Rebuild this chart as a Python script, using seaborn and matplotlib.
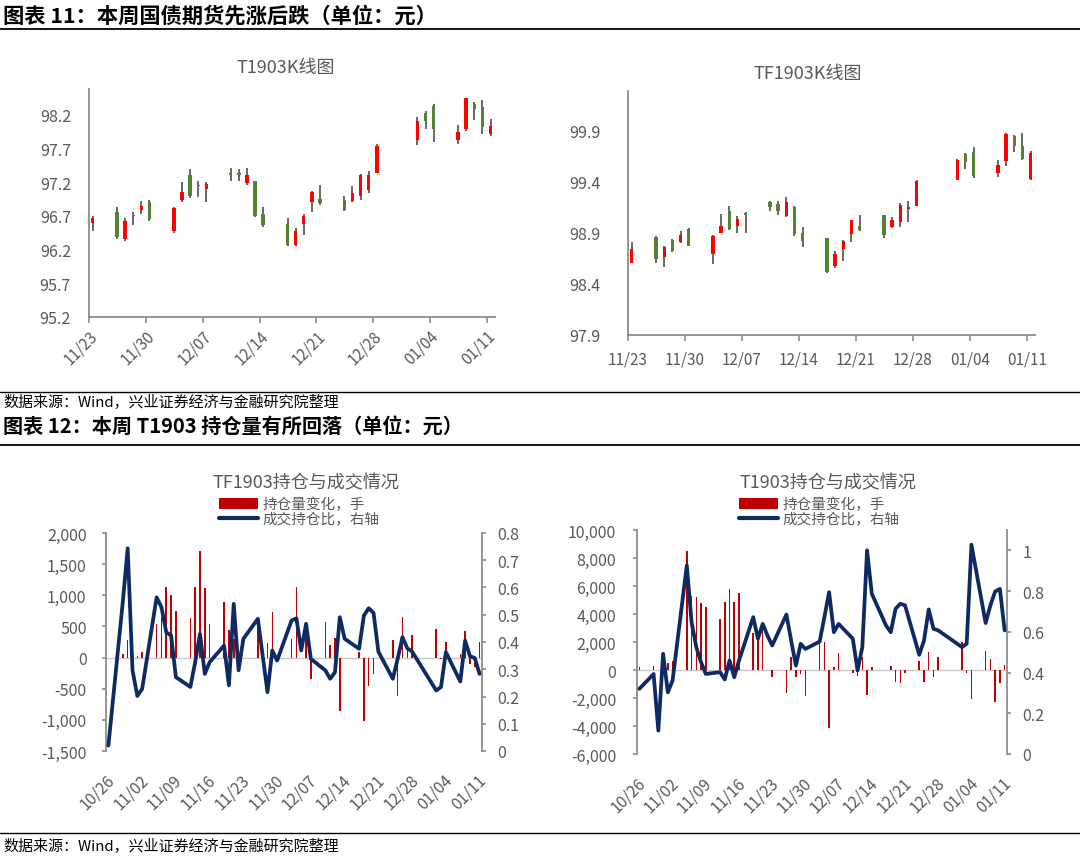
import pandas as pd
import numpy as np
import matplotlib
matplotlib.use("Agg")
import matplotlib.pyplot as plt
import seaborn as sns
from matplotlib.lines import Line2D
from matplotlib.patches import Patch

# ---------------- data: K-line charts (11/23 ~ 01/11) ----------------
k_dates = ["2018-11-23",
           "2018-11-26", "2018-11-27", "2018-11-28", "2018-11-29", "2018-11-30",
           "2018-12-03", "2018-12-04", "2018-12-05", "2018-12-06", "2018-12-07",
           "2018-12-10", "2018-12-11", "2018-12-12", "2018-12-13", "2018-12-14",
           "2018-12-17", "2018-12-18", "2018-12-19", "2018-12-20", "2018-12-21",
           "2018-12-24", "2018-12-25", "2018-12-26", "2018-12-27", "2018-12-28",
           "2019-01-02", "2019-01-03", "2019-01-04",
           "2019-01-07", "2019-01-08", "2019-01-09", "2019-01-10", "2019-01-11"]
k_ticks = ["11/23", "11/30", "12/07", "12/14", "12/21", "12/28", "01/04", "01/11"]

# T1903
t_open = [96.60, 96.75, 96.35, 96.71, 96.78, 96.90, 96.47, 96.94, 97.30, 97.16, 97.10,
          97.34, 97.33, 97.19, 97.21, 96.73, 96.58, 96.26, 96.58, 96.91, 96.95,
          96.93, 96.92, 97.00, 97.09, 97.34, 97.82, 98.23, 98.33,
          97.82, 97.99, 98.36, 98.31, 97.91]
t_high = [96.70, 96.83, 96.67, 96.75, 96.92, 96.94, 96.83, 97.20, 97.40, 97.21, 97.20,
          97.41, 97.39, 97.41, 97.22, 96.83, 96.67, 96.52, 96.72, 97.07, 97.16,
          97.00, 97.14, 97.32, 97.36, 97.77, 98.16, 98.25, 98.36,
          98.05, 98.45, 98.38, 98.42, 98.13]
t_low = [96.48, 96.36, 96.33, 96.57, 96.72, 96.63, 96.44, 96.91, 96.97, 96.98, 96.91,
         97.21, 97.22, 97.16, 96.68, 96.53, 96.25, 96.25, 96.41, 96.75, 96.86,
         96.77, 96.91, 96.93, 97.04, 97.33, 97.75, 97.99, 97.80,
         97.76, 97.96, 98.12, 97.92, 97.88]
t_close = [96.67, 96.38, 96.63, 96.69, 96.84, 96.65, 96.81, 97.06, 97.00, 97.14, 97.17,
           97.31, 97.31, 97.31, 96.69, 96.56, 96.26, 96.48, 96.69, 97.06, 96.89,
           96.79, 97.04, 97.30, 97.31, 97.74, 98.11, 98.11, 97.99,
           97.94, 98.45, 98.28, 98.01, 98.03]

# TF1903
tf_open = [98.61, 98.86, 98.66, 98.83, 98.81, 98.94, 98.69, 98.90, 99.11, 98.97, 99.09,
           99.20, 99.18, 99.07, 99.15, 98.90, 98.85, 98.58, 98.74, 98.89, 98.97,
           99.08, 98.96, 99.01, 99.13, 99.16, 99.42, 99.67, 99.69,
           99.49, 99.60, 99.85, 99.75, 99.43]
tf_high = [98.81, 98.87, 98.77, 98.84, 98.92, 98.95, 98.88, 99.09, 99.16, 99.07, 99.10,
           99.21, 99.21, 99.25, 99.16, 98.96, 98.85, 98.72, 98.83, 99.03, 99.08,
           99.08, 99.06, 99.19, 99.21, 99.42, 99.62, 99.68, 99.74,
           99.61, 99.88, 99.86, 99.88, 99.70]
tf_low = [98.61, 98.61, 98.57, 98.71, 98.80, 98.77, 98.60, 98.90, 98.93, 98.90, 98.90,
          99.11, 99.08, 99.06, 98.87, 98.76, 98.51, 98.56, 98.62, 98.81, 98.92,
          98.85, 98.95, 98.96, 99.01, 99.16, 99.42, 99.53, 99.44,
          99.45, 99.56, 99.69, 99.61, 99.42]
tf_close = [98.74, 98.64, 98.76, 98.72, 98.88, 98.77, 98.87, 98.97, 98.94, 99.04, 99.08,
            99.15, 99.11, 99.20, 98.89, 98.82, 98.52, 98.69, 98.82, 99.03, 98.93,
            98.88, 99.03, 99.17, 99.15, 99.41, 99.61, 99.59, 99.46,
            99.57, 99.87, 99.75, 99.62, 99.68]

# ---------------- data: open interest charts (10/26 ~ 01/11) ----------------
pos_dates = ["2018-10-26",
             "2018-10-29", "2018-10-30", "2018-10-31", "2018-11-01", "2018-11-02",
             "2018-11-05", "2018-11-06", "2018-11-07", "2018-11-08", "2018-11-09",
             "2018-11-12", "2018-11-13", "2018-11-14", "2018-11-15", "2018-11-16",
             "2018-11-19", "2018-11-20", "2018-11-21", "2018-11-22", "2018-11-23",
             "2018-11-26", "2018-11-27", "2018-11-28", "2018-11-29", "2018-11-30",
             "2018-12-03", "2018-12-04", "2018-12-05", "2018-12-06", "2018-12-07",
             "2018-12-10", "2018-12-11", "2018-12-12", "2018-12-13", "2018-12-14",
             "2018-12-17", "2018-12-18", "2018-12-19", "2018-12-20", "2018-12-21",
             "2018-12-24", "2018-12-25", "2018-12-26", "2018-12-27", "2018-12-28",
             "2019-01-02", "2019-01-03", "2019-01-04",
             "2019-01-07", "2019-01-08", "2019-01-09", "2019-01-10", "2019-01-11"]
pos_ticks = ["10/26", "11/02", "11/09", "11/16", "11/23", "11/30",
             "12/07", "12/14", "12/21", "12/28", "01/04", "01/11"]

# TF1903: open interest change (lots) and volume / open interest ratio
tf_oi_chg = [0, 60, 275, 0, 30, 85,
             540, 650, 1130, 1006, 740,
             630, 1140, 1717, 1118, 540,
             890, 450, 300, -100, 0,
             600, 0, 235, 730, 0,
             300, 1130, 0, 460, -350,
             570, 205, 315, -850, 0,
             85, -1025, -450, -260, 0,
             275, -620, 650, 190, 370,
             460, -20, 250,
             60, 420, -100, -150, 255]
tf_ratio = [0.02, 0.55, 0.744, 0.296, 0.202, 0.228,
            0.564, 0.528, 0.436, 0.424, 0.271,
            0.235, 0.326, 0.430, 0.283, 0.326,
            0.387, 0.241, 0.540, 0.296, 0.412,
            0.485, 0.35, 0.216, 0.369, 0.332,
            0.479, 0.487, 0.369, 0.467, 0.338,
            0.296, 0.265, 0.289, 0.491, 0.412,
            0.375, 0.497, 0.524, 0.507, 0.365,
            0.265, 0.338, 0.418, 0.377, 0.365,
            0.222, 0.235, 0.363,
            0.255, 0.405, 0.348, 0.341, 0.283]

# T1903
t_oi_chg = [190, 260, 0, 0, 500, 670,
            8520, 5310, 5240, 4790, 4520,
            3640, 4880, 5790, 4880, 5500,
            2620, 2570, 2930, 0, -520,
            -1670, 900, -520, -290, -1880,
            1980, 1980, -4170, 190, 1190,
            -240, -400, 900, -1790, 190,
            0, 310, -830, -930, -240,
            670, -830, 1310, -520, 900,
            1980, -240, -2070,
            1380, 790, -2260, -950, 380]
t_ratio = [0.32, 0.393, 0.115, 0.492, 0.303, 0.361,
           0.926, 0.648, 0.525, 0.451, 0.393,
           0.402, 0.366, 0.459, 0.377, 0.459,
           0.672, 0.566, 0.639, 0.582, 0.533,
           0.685, 0.557, 0.434, 0.541, 0.516,
           0.552, 0.672, 0.795, 0.598, 0.639,
           0.566, 0.410, 0.525, 1.0, 0.787,
           0.631, 0.598, 0.713, 0.738, 0.730,
           0.487, 0.557, 0.710, 0.615, 0.607,
           0.525, 0.541, 1.028,
           0.643, 0.73, 0.798, 0.811, 0.607]

# ---------------- style ----------------
sns.set_theme(style="white")
plt.rcParams['font.family'] = ['Noto Sans CJK SC', 'DejaVu Sans']
plt.rcParams['axes.unicode_minus'] = False

W, H = 1080, 862
RED = "#ff0000"
GREEN = "#548235"
WICK = "#404040"
AX = "#8c8c8c"
TXT = "#595959"
BAR = "#c00000"
NAVY = "#0d2a63"

fig = plt.figure(figsize=(W / 100, H / 100), dpi=100)
fig.patch.set_facecolor("white")


def px_axes(l, t, r, b):
    return fig.add_axes([l / W, 1 - b / H, (r - l) / W, (b - t) / H])


def hline(y, lw):
    fig.add_artist(Line2D([0, 1], [1 - y / H, 1 - y / H], transform=fig.transFigure,
                          color="black", lw=lw))


def day_pos(dates, start, shift):
    return ((pd.to_datetime(dates) - pd.Timestamp(start)).days + shift).to_numpy()


def draw_k(ax, x, o, h, l, c):
    o, h, l, c = map(np.asarray, (o, h, l, c))
    up = c > o
    ax.vlines(x, l, h, color=WICK, lw=1.1, zorder=2)
    body = np.maximum(np.abs(c - o), 0.012)
    ax.bar(x, body, bottom=np.minimum(o, c), width=0.42,
           color=np.where(up, RED, GREEN), linewidth=0, zorder=3)


def style_k(ax, ylim, yticks, rotate, ypad):
    for sp in ["top", "right"]:
        ax.spines[sp].set_visible(False)
    for sp in ["left", "bottom"]:
        ax.spines[sp].set_color(AX)
        ax.spines[sp].set_linewidth(1.3)
    ax.set_xlim(0, 50)
    ax.set_ylim(*ylim)
    ax.set_yticks(yticks)
    ax.set_yticklabels([f"{v:.1f}" for v in yticks])
    tick_pos = day_pos(pd.date_range("2018-11-23", periods=len(k_ticks), freq="7D"), "2018-11-23", 0)
    ax.set_xticks(tick_pos)
    if rotate:
        ax.set_xticklabels(k_ticks, rotation=45, ha="right", rotation_mode="anchor")
        ax.tick_params(axis="x", pad=3)
    else:
        ax.set_xticklabels(k_ticks)
        ax.tick_params(axis="x", pad=7)
    ax.tick_params(axis="x", bottom=True, direction="out", length=4, width=1.2,
                   color=AX, labelsize=11, labelcolor=TXT)
    ax.tick_params(axis="y", left=False, labelsize=11.5, labelcolor=TXT, pad=ypad)
    ax.grid(False)


# ---------------- figure 11: K-line ----------------
fig.text(3 / W, 1 - 16 / H, "图表 11：本周国债期货先涨后跌（单位：元）",
         fontsize=15.3, fontweight="bold", va="center", ha="left", color="black")
hline(30, 1.3)

kx = day_pos(k_dates, "2018-11-23", 0.45)

ax1 = px_axes(89, 90, 495, 318)
draw_k(ax1, kx, t_open, t_high, t_low, t_close)
style_k(ax1, (95.2, 98.58), np.arange(95.2, 98.25, 0.5), True, 7)
fig.text(286 / W, 1 - 68 / H, "T1903K线图", fontsize=13, color=TXT, ha="center", va="center")

ax2 = px_axes(628, 92, 1035, 336)
draw_k(ax2, kx, tf_open, tf_high, tf_low, tf_close)
style_k(ax2, (97.9, 100.29), np.arange(97.9, 99.95, 0.5), False, 14)
fig.text(808 / W, 1 - 74 / H, "TF1903K线图", fontsize=13, color=TXT, ha="center", va="center")

hline(393, 1.0)
fig.text(3 / W, 1 - 401.5 / H, "数据来源：Wind，兴业证券经济与金融研究院整理",
         fontsize=10.8, va="center", ha="left", color="black")
fig.text(3 / W, 1 - 426.5 / H, "图表 12：本周 T1903 持仓量有所回落（单位：元）",
         fontsize=14.5, fontweight="bold", va="center", ha="left", color="black")
hline(446, 1.3)

# ---------------- figure 12: open interest ----------------
px = day_pos(pos_dates, "2018-10-26", 0.5)
pos_tick_x = day_pos(pd.date_range("2018-10-26", periods=len(pos_ticks), freq="7D"), "2018-10-26", 0)


def draw_pos(ax, oi, ratio, ylim, ystep, rlim, rticks, rlabels, lpad, rpad):
    sns.barplot(x=px, y=oi, native_scale=True, color=BAR, saturation=1, width=0.32,
                errorbar=None, ax=ax, zorder=2, linewidth=0)
    ax.axhline(0, color="#c8c8c8", lw=1, zorder=1)
    axr = ax.twinx()
    sns.lineplot(x=px, y=ratio, color=NAVY, lw=2.7, ax=axr, zorder=3)
    ax.set_xlim(0, 78)
    ax.set_ylim(*ylim)
    yt = np.arange(ylim[0], ylim[1] + 1, ystep)
    ax.set_yticks(yt)
    ax.set_yticklabels([f"{int(v):,}" for v in yt])
    axr.set_ylim(*rlim)
    axr.set_yticks(rticks)
    axr.set_yticklabels(rlabels)
    ax.set_xticks(pos_tick_x)
    ax.set_xticklabels(pos_ticks, rotation=45, ha="right", rotation_mode="anchor")
    for a in (ax, axr):
        a.set_xlabel("")
        a.set_ylabel("")
        a.grid(False)
        for sp in a.spines.values():
            sp.set_visible(False)
    ax.spines["left"].set_visible(True)
    ax.spines["left"].set_color(AX)
    ax.spines["left"].set_linewidth(1.3)
    axr.spines["right"].set_visible(True)
    axr.spines["right"].set_color(AX)
    axr.spines["right"].set_linewidth(1.3)
    ax.tick_params(axis="x", bottom=False, length=0, labelsize=11.5, labelcolor=TXT, pad=14)
    ax.tick_params(axis="y", left=True, direction="out", length=3, width=1.2, color=AX,
                   labelsize=11.5, labelcolor=TXT, pad=lpad)
    axr.tick_params(axis="y", right=True, direction="out", length=3, width=1.2, color=AX,
                    labelsize=11.5, labelcolor=TXT, pad=rpad)
    return axr


def legend_at(ax, x, y):
    handles = [Patch(facecolor=BAR, edgecolor="none"),
               Line2D([], [], color=NAVY, lw=3)]
    ax.legend(handles, ["持仓量变化，手", "成交持仓比，右轴"], loc="upper left",
              bbox_to_anchor=(x / W, 1 - y / H), bbox_transform=fig.transFigure,
              frameon=False, fontsize=10.5, labelcolor=TXT, handlelength=2.7,
              handletextpad=0.3, labelspacing=0.05, borderpad=0, borderaxespad=0)


ax3 = px_axes(106, 534, 482, 752)
r3 = draw_pos(ax3, tf_oi_chg, tf_ratio, (-1500, 2000), 500, (0, 0.8),
              np.arange(0, 0.85, 0.1), ["0", "0.1", "0.2", "0.3", "0.4", "0.5", "0.6", "0.7", "0.8"], 11, 8)
fig.text(306 / W, 1 - 483 / H, "TF1903持仓与成交情况", fontsize=13, color=TXT, ha="center", va="center")
legend_at(r3, 219, 498)

ax4 = px_axes(637, 531, 1007, 755)
r4 = draw_pos(ax4, t_oi_chg, t_ratio, (-6000, 10000), 2000, (0, 1.1),
              [0, 0.2, 0.4, 0.6, 0.8, 1.0], ["0", "0.2", "0.4", "0.6", "0.8", "1"], 12, 8)
fig.text(828 / W, 1 - 483 / H, "T1903持仓与成交情况", fontsize=13, color=TXT, ha="center", va="center")
legend_at(r4, 739, 498)

hline(834, 1.0)
fig.text(3 / W, 1 - 846 / H, "数据来源：Wind，兴业证券经济与金融研究院整理",
         fontsize=10.8, va="center", ha="left", color="black")

fig.savefig("out.png", dpi=100, facecolor="white")
